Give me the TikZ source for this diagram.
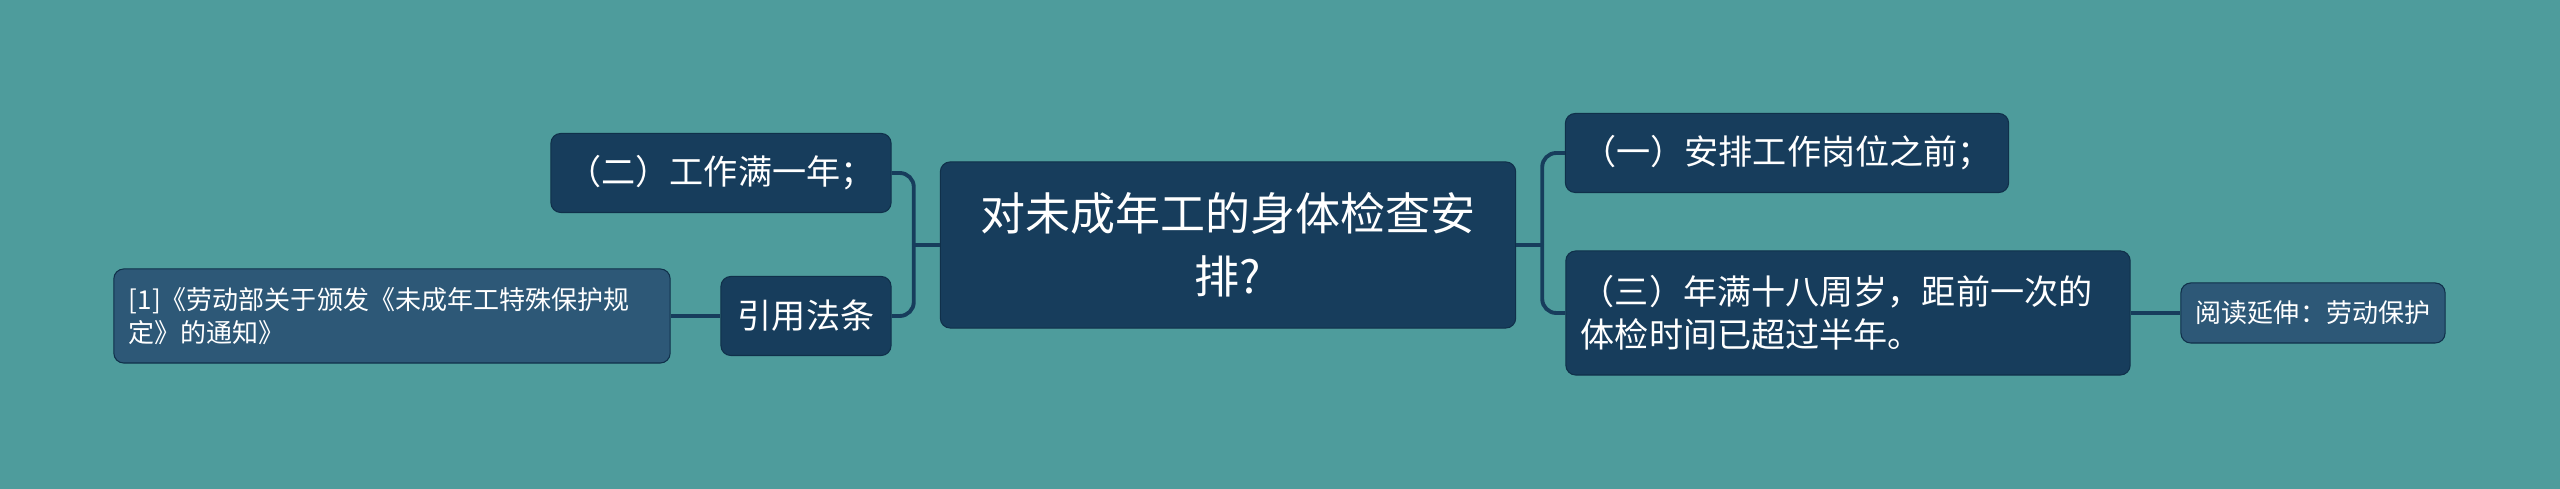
\documentclass[tikz,border=0pt]{standalone}
\usepackage{fontspec}
\setmainfont{Noto Sans CJK SC}
\usepackage{tikz}
\usetikzlibrary{positioning}
\definecolor{bgteal}{HTML}{4E9C9C}
\definecolor{nodedark}{HTML}{173D5C}
\definecolor{nodelight}{HTML}{2D5877}
\definecolor{nodeedge}{HTML}{10304A}
\tikzstyle{topic}=[rectangle, rounded corners=2.8pt, fill=nodedark, draw=nodeedge, line width=0.3pt, text=white, inner sep=0pt]
\tikzstyle{maintopic}=[topic, minimum width=5.75cm, minimum height=1.66cm, align=center, font=\fontsize{12.8}{17.9}\selectfont]
\tikzstyle{subtopic}=[topic, minimum height=0.79cm, font=\fontsize{9.7}{12.2}\selectfont]
\tikzstyle{leaf}=[topic, fill=nodelight, font=\fontsize{7.4}{9.4}\selectfont]
\tikzstyle{link}=[draw=nodedark, line width=1.1pt, rounded corners=4pt]

\begin{document}
\begin{tikzpicture}[x=0.01cm, y=-0.01cm]
          \useasboundingbox (0,0) rectangle (2560,489);
          \fill[bgteal] (0,0) rectangle (2560,489);
          \node[maintopic] (main) at (1228,245){对未成年工的身体检查安\\排?};
          \node[subtopic, minimum width=3.40cm] (two) at (721,173){（二）工作满一年；};
          \node[subtopic, minimum width=1.70cm] (cite) at (806,316){引用法条};
          \node[leaf, minimum height=0.94cm, inner xsep=0.15cm, text width=5.26cm, align=left] (law) at (392,316){[1]《劳动部关于颁发《未成年工特殊保护规\\定》的通知》};
          \node[subtopic, minimum width=4.43cm] (one) at (1787,153){（一）安排工作岗位之前；};
          \node[subtopic, minimum height=1.24cm, inner xsep=0.15cm, text width=5.34cm, align=left] (three) at (1848,313){（三）年满十八周岁，距前一次的\\体检时间已超过半年。};
          \node[leaf, minimum width=2.64cm, minimum height=0.60cm] (read) at (2313,313){阅读延伸：劳动保护};
          \coordinate (ljoin) at ([xshift=-0.26cm]main.west);
          \coordinate (rjoin) at ([xshift=0.26cm]main.east);
          \draw[link] (main.west) -- (ljoin);
          \draw[link] (ljoin) |- (two.east);
          \draw[link] (ljoin) |- (cite.east);
          \draw[link] (main.east) -- (rjoin);
          \draw[link] (rjoin) |- (one.west);
          \draw[link] (rjoin) |- (three.west);
          \draw[link] (cite.west) -- (law.east);
          \draw[link] (three.east) -- (read.west);
        \end{tikzpicture}
\end{document}
